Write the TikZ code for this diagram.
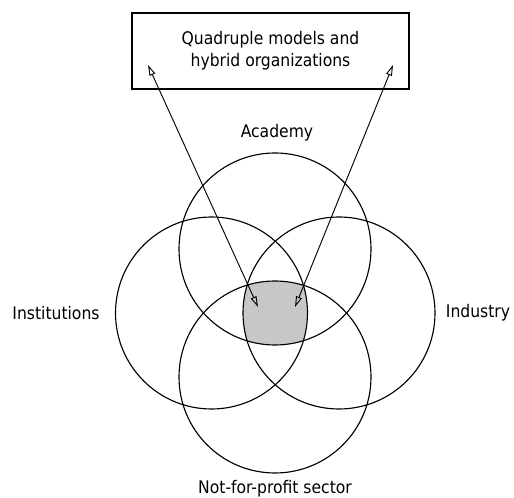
\documentclass[tikz,border=0pt]{standalone}
\usepackage{fontspec}
\setmainfont{DejaVu Sans Condensed}
\usetikzlibrary{arrows.meta}
\begin{document}
\begin{tikzpicture}[x=0.75pt,y=-0.75pt,
  ring/.style={circle,draw,line width=0.85pt,minimum size=144pt,inner sep=0pt},
  lbl/.style={font=\fontsize{13}{16.5}\selectfont,inner sep=0pt},
  dbl/.style={line width=0.7pt,{Triangle[open,length=8pt,width=4.5pt]}-{Triangle[open,length=8pt,width=4.5pt]}}]
\useasboundingbox (0,0) rectangle (514,498);
\coordinate (cA) at (275,249);
\coordinate (cL) at (211.5,313);
\coordinate (cR) at (339,313);
\coordinate (cB) at (275,377);
\begin{scope}
  \clip (cA) circle (96);
  \clip (cL) circle (96);
  \clip (cR) circle (96);
  \fill[black!22] (cB) circle (96);
\end{scope}
\node[ring] (acad) at (cA) {};
\node[ring] (inst) at (cL) {};
\node[ring] (ind) at (cR) {};
\node[ring] (npf) at (cB) {};
\node[draw,line width=0.85pt,minimum width=207.75pt,minimum height=57pt,inner sep=0pt,align=center,lbl] (box) at (270.5,51) {Quadruple models and\\hybrid organizations};
\node[lbl] (tA) at (277,133) {Academy};
\node[lbl] (tL) at (56,313) {Institutions};
\node[lbl] (tR) at (478,313) {Industry};
\node[lbl] (tB) at (275,489) {Not-for-profit sector};
\coordinate (l1) at (148,65);
\coordinate (l2) at (258,307);
\coordinate (r1) at (393,65);
\coordinate (r2) at (295,307);
\draw[dbl] (l1) -- (l2);
\draw[dbl] (r1) -- (r2);
\end{tikzpicture}
\end{document}
